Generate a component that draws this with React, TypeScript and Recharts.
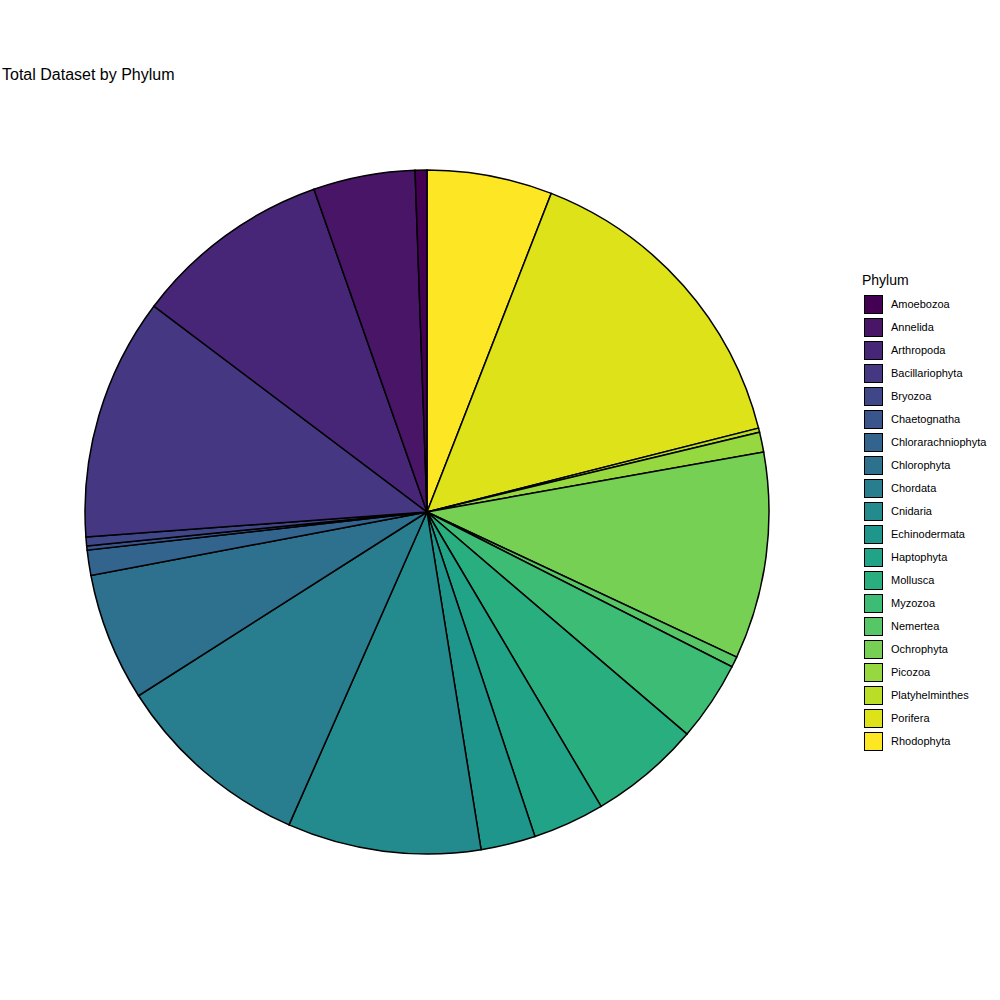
import React from "react";
import { PieChart, Pie, Cell } from "recharts";

const phyla = ["Amoebozoa","Annelida","Arthropoda","Bacillariophyta","Bryozoa","Chaetognatha","Chlorarachniophyta","Chlorophyta","Chordata","Cnidaria","Echinodermata","Haptophyta","Mollusca","Myzozoa","Nemertea","Ochrophyta","Picozoa","Platyhelminthes","Porifera","Rhodophyta"];
const values = [2, 17.3, 33.7, 41.2, 1.5, 0.7, 4.3, 21.8, 33.7, 32.9, 9.3, 12.2, 18.9, 13.6, 1.8, 35.2, 3.4, 0.7, 54.5, 21.3];
const colors = ["#440154","#481567","#482677","#453781","#3F4788","#39558C","#32648E","#2D718E","#287D8E","#238A8D","#1F968B","#20A386","#29AF7F","#3CBC75","#56C667","#75D054","#95D840","#BADE28","#DDE318","#FDE725"];

const data = phyla.map((p, i) => ({ name: p, value: values[i], color: colors[i] })).reverse();

export default function App() {
  return (
    <div style={{ position: "absolute", left: 0, top: 0, width: 1000, height: 1000, background: "#fff", fontFamily: "Arial, 'Liberation Sans', sans-serif" }}>
      <div style={{ position: "absolute", left: 2, top: 66, fontSize: 16, color: "#000" }}>Total Dataset by Phylum</div>
      <PieChart width={1000} height={1000} margin={{ top: 0, right: 0, bottom: 0, left: 0 }}>
        <Pie data={data} dataKey="value" cx={427} cy={512} outerRadius={342} startAngle={90} endAngle={-270} stroke="#000" strokeWidth={1.5} isAnimationActive={false}>
          {data.map((d) => <Cell key={d.name} fill={d.color} />)}
        </Pie>
      </PieChart>
      <div style={{ position: "absolute", left: 862, top: 272, fontSize: 14, color: "#000" }}>Phylum</div>
      {phyla.map((p, i) => (
        <div key={p} style={{ position: "absolute", left: 864, top: 294 + i * 23, height: 20, display: "flex", alignItems: "center" }}>
          <div style={{ width: 17, height: 17, background: colors[i], border: "1.5px solid #000" }} />
          <span style={{ marginLeft: 8, fontSize: 11, color: "#000" }}>{p}</span>
        </div>
      ))}
    </div>
  );
}
